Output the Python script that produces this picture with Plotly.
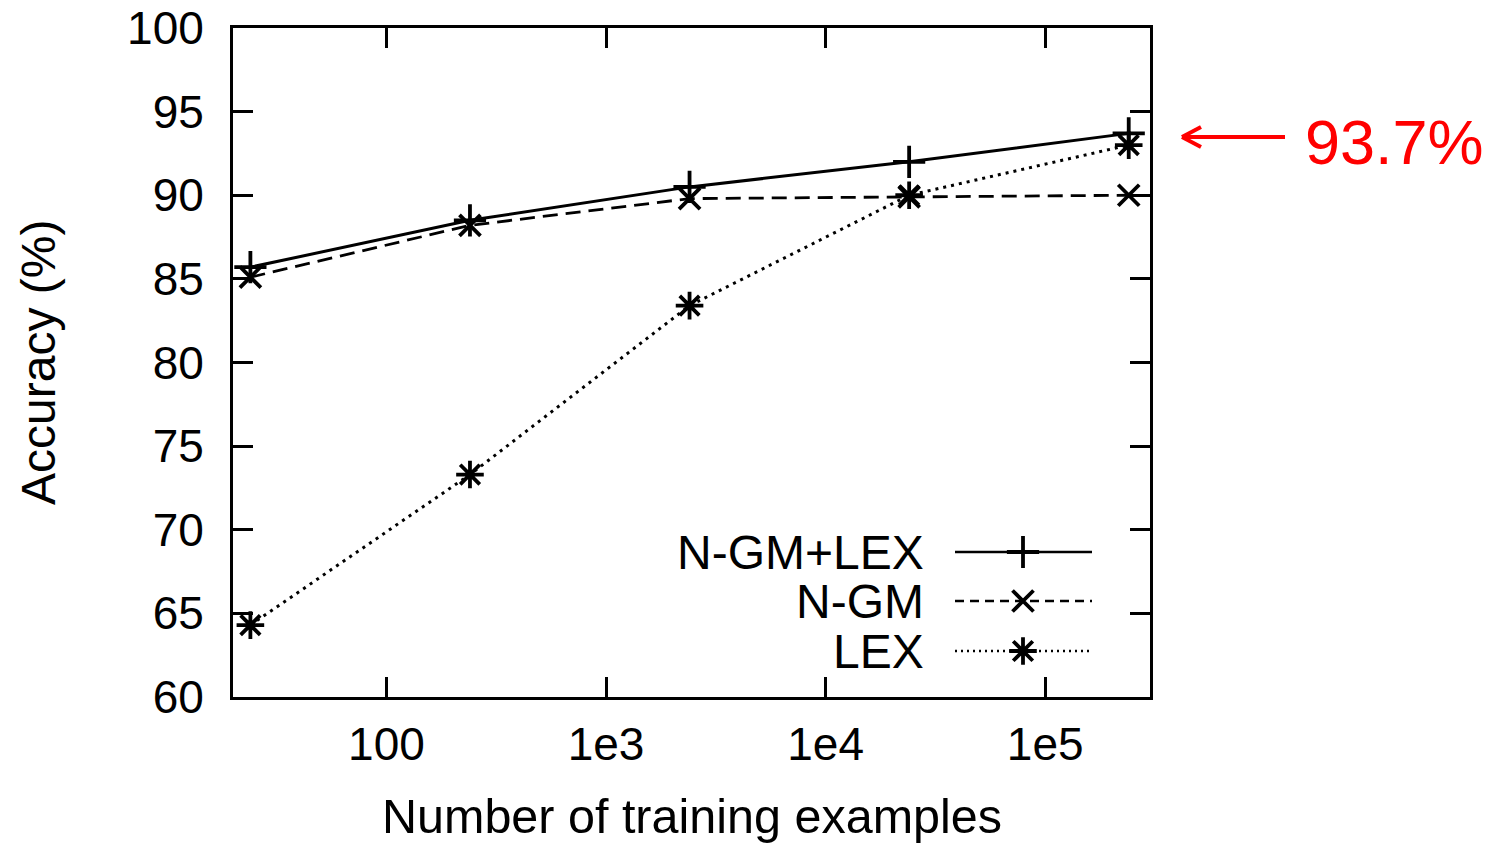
import plotly.graph_objects as go
import math

# ---- data ----
train_sizes = [24, 240, 2400, 24000, 240000]
ngm_lex = [85.7, 88.5, 90.5, 92.0, 93.7]
ngm = [85.1, 88.2, 89.8, 89.9, 90.0]
lex = [64.3, 73.3, 83.4, 90.0, 93.0]
series_names = ["N-GM+LEX", "N-GM", "LEX"]
x_tickvals = [100, 1000, 10000, 100000]
x_ticktext = ["100", "1e3", "1e4", "1e5"]
y_tickvals = [60, 65, 70, 75, 80, 85, 90, 95, 100]
highlight_text = "93.7%"

# ---- layout constants (pixels) ----
W, H = 1497, 843
L, R, T, B = 233, 1150, 28, 697
FONT = "Liberation Sans, Arial, sans-serif"

def px(xp):
    return (xp - L) / (R - L)

def py(yp):
    return (B - yp) / (B - T)

styles = [
    dict(dash="solid", symbol="cross-thin", size=23, width=3),
    dict(dash="15px,8px", symbol="x-thin", size=21, width=2.8),
    dict(dash="3px,5px", symbol="asterisk", size=23, width=3),
]
data_series = [ngm_lex, ngm, lex]

fig = go.Figure()
for name, ys, st in zip(series_names, data_series, styles):
    fig.add_trace(go.Scatter(
        x=train_sizes, y=ys, name=name, mode="lines+markers",
        line=dict(color="black", width=st["width"], dash=st["dash"]),
        marker=dict(symbol=st["symbol"], size=st["size"], color="black",
                    line=dict(color="black", width=3.8)),
        showlegend=False, cliponaxis=False,
    ))

# ---- custom legend (text right-aligned, sample to the right) ----
leg_rows = [552, 601, 651]
leg_x0, leg_x1, leg_xm, leg_text_right = 955, 1092, 1023, 926
leg_dashes = ["solid", "9px,6px", "2px,4px"]
for name, st, yrow, dsh in zip(series_names, styles, leg_rows, leg_dashes):
    fig.add_trace(go.Scatter(
        x=[leg_x0, leg_x1], y=[yrow, yrow], mode="lines",
        line=dict(color="black", width=st["width"] - 0.3, dash=dsh),
        xaxis="x2", yaxis="y2", showlegend=False, hoverinfo="skip",
    ))
    fig.add_trace(go.Scatter(
        x=[leg_xm], y=[yrow], mode="markers",
        marker=dict(symbol=st["symbol"], size=st["size"], color="black",
                    line=dict(color="black", width=3.8)),
        xaxis="x2", yaxis="y2", showlegend=False, hoverinfo="skip",
    ))

annotations = []
for name, yrow in zip(series_names, leg_rows):
    annotations.append(dict(
        x=px(leg_text_right), y=py(yrow), xref="paper", yref="paper",
        text=name, showarrow=False, xanchor="right", yanchor="middle",
        font=dict(family=FONT, size=48, color="black"),
    ))

# axis titles
annotations.append(dict(
    x=px(692), y=py(816), xref="paper", yref="paper",
    text="Number of training examples", showarrow=False,
    xanchor="center", yanchor="middle", borderpad=0,
    font=dict(family=FONT, size=48.5, color="black"),
))
annotations.append(dict(
    x=px(38), y=py(363), xref="paper", yref="paper",
    text="Accuracy (%)", showarrow=False, textangle=-90,
    xanchor="center", yanchor="middle",
    font=dict(family=FONT, size=48, color="black"),
))
# red highlight text
annotations.append(dict(
    x=px(1303), y=py(142), xref="paper", yref="paper",
    text=highlight_text, showarrow=False, xanchor="left", yanchor="middle",
    font=dict(family=FONT, size=63, color="red"),
))

red = dict(color="red", width=4)
shapes = [
    dict(type="line", xref="paper", yref="paper",
         x0=px(1182), y0=py(137), x1=px(1285), y1=py(137), line=red),
    dict(type="line", xref="paper", yref="paper",
         x0=px(1182), y0=py(137), x1=px(1201), y1=py(127), line=red),
    dict(type="line", xref="paper", yref="paper",
         x0=px(1182), y0=py(137), x1=px(1201), y1=py(147), line=red),
]

fig.update_layout(
    width=W, height=H,
    margin=dict(l=L, r=W - R, t=T, b=H - B, pad=0, autoexpand=False),
    paper_bgcolor="white", plot_bgcolor="white",
    font=dict(family=FONT, size=46, color="black"),
    annotations=annotations, shapes=shapes, showlegend=False,
    xaxis=dict(
        type="log", range=[math.log10(20), math.log10(300000)],
        tickvals=x_tickvals, ticktext=x_ticktext, automargin=False,
        ticks="inside", ticklen=20, tickwidth=3, tickcolor="black",
        showline=True, linewidth=3, linecolor="black", mirror="ticks",
        showgrid=False, zeroline=False, ticklabelstandoff=5,
        tickfont=dict(family=FONT, size=46, color="black"),
    ),
    yaxis=dict(
        range=[60, 100], tickvals=y_tickvals, automargin=False,
        ticks="inside", ticklen=20, tickwidth=3, tickcolor="black",
        showline=True, linewidth=3, linecolor="black", mirror="ticks",
        showgrid=False, zeroline=False, ticklabelstandoff=17,
        tickfont=dict(family=FONT, size=46, color="black"),
    ),
    xaxis2=dict(range=[L, R], overlaying="x", visible=False,
                anchor="y2", fixedrange=True, automargin=False),
    yaxis2=dict(range=[B, T], overlaying="y", visible=False,
                anchor="x2", fixedrange=True, automargin=False),
)

fig.write_html(
    "out.html",
    config={"displayModeBar": False},
    post_script="document.body.style.margin='0';document.body.style.padding='0';"
                "document.body.style.overflow='hidden';"
                "document.documentElement.style.overflow='hidden';",
)
